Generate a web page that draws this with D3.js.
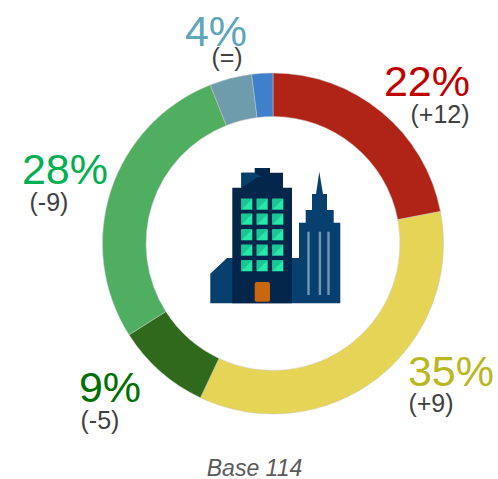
<!DOCTYPE html>
<html><head><meta charset="utf-8">
<script src="https://cdnjs.cloudflare.com/ajax/libs/d3/7.8.5/d3.min.js"></script>
<style>html,body{margin:0;padding:0;background:#fff}svg{display:block}text{font-family:"Liberation Sans",Arial,sans-serif}</style>
</head><body><script>
const categories = ["A","B","C","D","E","F"];
const values = [22,35,9,28,4,2];
const sliceColors = ["#b02418","#e5d456","#2f6a1c","#4fae5f","#6f9cad","#3f7fcc"];
const pctLabels = ["22%","35%","9%","28%","4%"];
const deltaLabels = ["(+12)","(+9)","(-5)","(-9)","(=)"];
const labelColors = ["#c00000","#b9b81e","#007000","#00b050","#5ea6b8"];
const baseLabel = "Base 114";

const W=498,H=479,cx=273,cy=243.5;
const svg=d3.select("body").append("svg").attr("width",W).attr("height",H);
const g=svg.append("g").attr("transform",`translate(${cx},${cy})`);
const pie=d3.pie().sort(null).value(d=>d);
const arc=d3.arc().innerRadius(127).outerRadius(170.5);
g.selectAll("path.s").data(pie(values)).join("path").attr("class","s")
  .attr("d",arc).attr("fill",(d,i)=>sliceColors[i])
  .attr("stroke","#c9c9c0").attr("stroke-width",0.5);

// label anchors (x centre, % baseline, delta baseline)
const lx=[427,451,110,65,216], lyP=[96,386,402,184,46], lyD=[123,412,429,211,66];
const dx=[440,431,100,49,227];
const lab=svg.append("g");
lab.selectAll("text.p").data(pctLabels).join("text").attr("class","p")
  .attr("x",(d,i)=>lx[i]).attr("y",(d,i)=>lyP[i]).attr("text-anchor","middle")
  .attr("font-size",43).attr("fill",(d,i)=>labelColors[i]).text(d=>d);
lab.selectAll("text.d").data(deltaLabels).join("text").attr("class","d")
  .attr("x",(d,i)=>dx[i]).attr("y",(d,i)=>lyD[i]).attr("text-anchor","middle")
  .attr("font-size",25).attr("fill","#404040").text(d=>d);
svg.append("text").attr("x",254.5).attr("y",476).attr("text-anchor","middle")
  .attr("font-size",23).attr("font-style","italic").attr("fill","#595959").text(baseLabel);

// building icon
const ic=svg.append("g");
const navy="#04264a", blue="#07406f";
ic.append("path").attr("fill",blue).attr("d","M210.3 303.3V273.7L227 258H299V222.7H305.7V210H312V194H316L319.3 171.7L323 194H327V210H333.7V222.7H340.3V303.3Z");
ic.append("path").attr("fill",navy).attr("d","M232.3 303.3V187.7H241.3V172.7H254.7V168H270V172.7H283V187.7H292V303.3Z");
ic.append("path").attr("fill",blue).attr("d","M241.3 172.7H254.7L262 177H258L241.3 187.7Z");
const wx=[241.3,256.7,272.3], wy=[198.7,213.7,229.3,244.7,260.3];
wy.forEach(y=>wx.forEach(x=>{
  ic.append("rect").attr("x",x).attr("y",y).attr("width",11).attr("height",11).attr("fill","#26e8a8");
  ic.append("path").attr("fill","#1cc694").attr("d",`M${x} ${y}h11L${x} ${y+11}Z`);
}));
ic.append("rect").attr("x",254.7).attr("y",282).attr("width",15.3).attr("height",19.7).attr("rx",2).attr("fill","#c8670c");
[307.3,318.7,327.3].forEach(x=>ic.append("rect").attr("x",x).attr("y",231.7).attr("width",2.4).attr("height",63.3).attr("fill","#6f97b3"));
</script></body></html>
